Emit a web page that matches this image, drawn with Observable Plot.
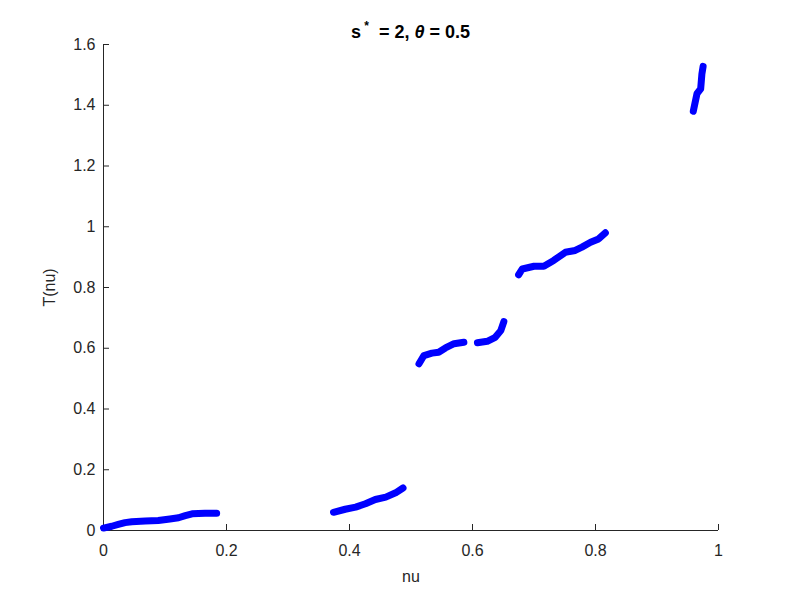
<!DOCTYPE html>
<html><head><meta charset="utf-8">
<script src="https://cdn.jsdelivr.net/npm/d3@7"></script>
<script src="https://cdn.jsdelivr.net/npm/@observablehq/plot@0.6"></script>
<style>body{margin:0;background:#fff;} svg{display:block;}</style>
</head><body><div id="chart"></div>
<script>
// Segment data (nu, T(nu))
const seg1Nu = [0.000, 0.0135, 0.024, 0.035, 0.046, 0.068, 0.089, 0.108, 0.122, 0.133, 0.144, 0.165, 0.184];
const seg1T  = [0.008, 0.014, 0.020, 0.026, 0.029, 0.031, 0.033, 0.038, 0.042, 0.049, 0.055, 0.057, 0.057];
const seg2Nu = [0.374, 0.393, 0.410, 0.426, 0.442, 0.459, 0.475, 0.487];
const seg2T  = [0.060, 0.070, 0.077, 0.088, 0.102, 0.110, 0.124, 0.140];
const seg3Nu = [0.513, 0.521, 0.534, 0.545, 0.556, 0.570, 0.586];
const seg3T  = [0.549, 0.576, 0.584, 0.587, 0.601, 0.615, 0.620];
const seg4Nu = [0.608, 0.624, 0.637, 0.646, 0.651];
const seg4T  = [0.618, 0.623, 0.636, 0.658, 0.688];
const seg5Nu = [0.675, 0.681, 0.700, 0.716, 0.732, 0.751, 0.767, 0.778, 0.792, 0.805, 0.816];
const seg5T  = [0.842, 0.861, 0.870, 0.870, 0.889, 0.916, 0.922, 0.933, 0.949, 0.960, 0.980];
const seg6Nu = [0.959, 0.965, 0.971, 0.973, 0.975];
const seg6T  = [1.380, 1.438, 1.454, 1.503, 1.528];

const xTicks = [0, 0.2, 0.4, 0.6, 0.8, 1];
const yTicks = [0, 0.2, 0.4, 0.6, 0.8, 1, 1.2, 1.4, 1.6];

const segments = [[seg1Nu, seg1T], [seg2Nu, seg2T], [seg3Nu, seg3T], [seg4Nu, seg4T], [seg5Nu, seg5T], [seg6Nu, seg6T]];
const points = segments.flatMap(([nu, t], i) => nu.map((v, j) => ({nu: v, T: t[j], seg: i})));

const axisColor = "#262626";
const fmt = d => String(d);
const plot = Plot.plot({
  width: 793, height: 595,
  marginLeft: 103, marginRight: 75, marginTop: 44, marginBottom: 65,
  style: {fontFamily: "'Liberation Sans', Arial, sans-serif", fontSize: "16px", color: axisColor, background: "#fff"},
  x: {domain: [0, 1]},
  y: {domain: [0, 1.6]},
  marks: [
    Plot.ruleY([0], {stroke: axisColor}),
    Plot.ruleX([0], {stroke: axisColor}),
    Plot.tickX(xTicks, {x: d => d, insetTop: 480, stroke: axisColor}),
    Plot.tickY(yTicks, {y: d => d, insetRight: 609, stroke: axisColor}),
    Plot.axisX(xTicks, {tickSize: 0, tickPadding: 14, tickFormat: fmt, label: "nu", labelAnchor: "center", labelArrow: "none", labelOffset: 51, fontSize: 16}),
    Plot.axisY(yTicks, {tickSize: 0, tickPadding: 8, tickFormat: fmt, label: "T(nu)", labelAnchor: "center", labelArrow: "none", labelOffset: 60, fontSize: 16}),
    Plot.line(points, {x: "nu", y: "T", z: "seg", stroke: "#0000ff", strokeWidth: 7, strokeLinejoin: "round", strokeLinecap: "round"})
  ]
});

const svg = d3.select(plot);
const xr = plot.scale("x").range;
const cx = (xr[0] + xr[1]) / 2;
const title = svg.append("text")
  .attr("x", cx).attr("y", 38)
  .attr("text-anchor", "middle")
  .attr("font-weight", "bold")
  .attr("font-size", 18)
  .attr("fill", "#000")
  .attr("style", "white-space:pre");
title.append("tspan").text("s");
title.append("tspan").attr("dy", -8).attr("font-size", 12).text(" *");
title.append("tspan").attr("dy", 8).text("  = 2, ");
title.append("tspan").attr("font-style", "italic").text("θ");
title.append("tspan").text(" = 0.5");

document.getElementById("chart").appendChild(plot);
</script>
</body></html>
